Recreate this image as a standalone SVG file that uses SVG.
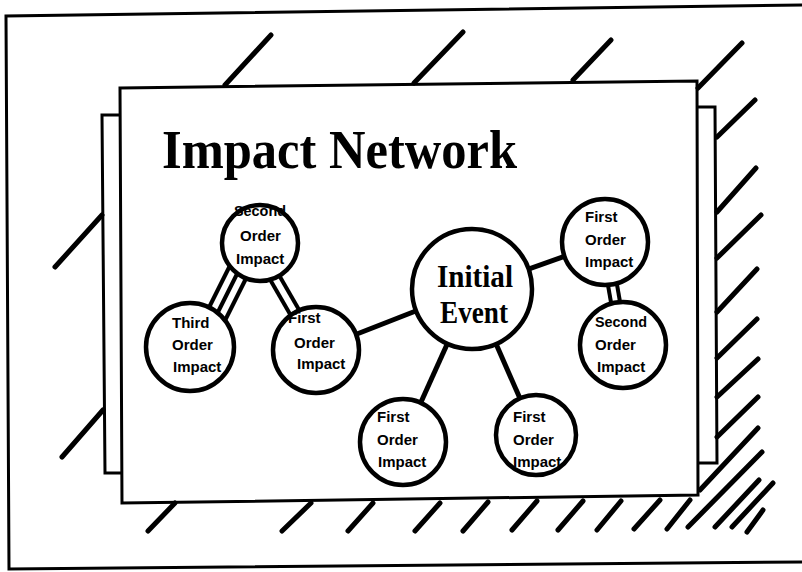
<svg xmlns="http://www.w3.org/2000/svg" width="802" height="572" viewBox="0 0 802 572">
<style>
.frame{fill:none;stroke:#000;stroke-width:3;stroke-linejoin:miter}
.hatch{fill:none;stroke:#000;stroke-width:5;stroke-linecap:round}
.conn{fill:none;stroke:#000;stroke-width:5}
.strip{fill:none;stroke:#000;stroke-width:4}
.node circle{fill:#fff;stroke:#000;stroke-width:4.5}
.lbl{font-family:"Liberation Sans",Arial,sans-serif;font-weight:bold;font-size:15px;fill:#000}
.big{font-family:"Liberation Serif","Times New Roman",serif;font-weight:bold;fill:#000}
</style>
<rect x="0" y="0" width="802" height="572" fill="#fff"/>
<g id="frame">
<path class="frame" d="M802,5 L6,16 L9,569 L802,562"/>
<path class="frame" d="M120,88 L697,81 L698,495 L122,503 Z"/>
<path class="frame" d="M120,115 H102 L105,473 H122"/>
<path class="frame" d="M697,107 H715 L717,463 H699"/>
</g>
<g id="hatching">
<path class="hatch" d="M225,85 L271,35 M414,83 L463,32 M573,80 L611,40 M698,88 L742,43"/>
<path class="hatch" d="M717,137 L755,100 M717,212 L756,168 M717,258 L761,215 M717,312 L757,269 M717,358 L757,319 M717,397 L758,359 M717,437 L758,397"/>
<path class="hatch" d="M700,490 L758,428 M688,527 L762,452 M715,527 L759,480 M732,527 L773,483 M747,532 L763,510"/>
<path class="hatch" d="M148,531 L175,503 M282,531 L311,503 M348,531 L373,503 M415,531 L440,503 M463,531 L488,502 M512,530 L537,501 M558,530 L583,501 M597,530 L621,501 M634,529 L660,500 M667,529 L690,500"/>
<path class="hatch" d="M55,267 L102,215 M62,457 L103,410"/>
</g>
<g id="connectors">
<line class="conn" x1="472" y1="289" x2="316" y2="350"/>
<line class="conn" x1="472" y1="289" x2="605" y2="242"/>
<line class="conn" x1="472" y1="289" x2="403" y2="442"/>
<line class="conn" x1="472" y1="289" x2="536" y2="435"/>
<g class="strip">
<line x1="244" y1="260" x2="212" y2="324"/>
<line x1="253" y1="264.5" x2="221" y2="328.5"/>
<line x1="235" y1="255.5" x2="203" y2="319.5"/>
<line x1="272.3" y1="263.5" x2="302.3" y2="315.5"/>
<line x1="263.7" y1="268.5" x2="293.7" y2="320.5"/>
<line x1="609.4" y1="241.2" x2="627.4" y2="344.2"/>
<line x1="600.6" y1="242.8" x2="618.6" y2="345.8"/>
</g>
</g>
<g id="title"><text class="big" x="162" y="168" font-size="54" textLength="355" lengthAdjust="spacingAndGlyphs">Impact Network</text></g>
<g id="node-second-left" class="node">
<circle cx="260" cy="243" r="38"/>
<text class="lbl" x="234" y="216" textLength="52" lengthAdjust="spacingAndGlyphs">Second</text>
<text class="lbl" x="240" y="241">Order</text>
<text class="lbl" x="236" y="264">Impact</text>
</g>
<g id="node-third" class="node">
<circle cx="190" cy="347" r="44"/>
<text class="lbl" x="172" y="328">Third</text>
<text class="lbl" x="172" y="350">Order</text>
<text class="lbl" x="173" y="372">Impact</text>
</g>
<g id="node-first-left" class="node">
<circle cx="316" cy="350" r="43"/>
<text class="lbl" x="288" y="323">First</text>
<text class="lbl" x="294" y="348">Order</text>
<text class="lbl" x="297" y="369">Impact</text>
</g>
<g id="node-initial" class="node">
<circle cx="472" cy="289" r="60"/>
<text class="big" x="437" y="287" font-size="32" textLength="76" lengthAdjust="spacingAndGlyphs">Initial</text>
<text class="big" x="440" y="323" font-size="32" textLength="68" lengthAdjust="spacingAndGlyphs">Event</text>
</g>
<g id="node-first-bl" class="node">
<circle cx="403" cy="442" r="43"/>
<text class="lbl" x="377" y="422">First</text>
<text class="lbl" x="377" y="445">Order</text>
<text class="lbl" x="378" y="467">Impact</text>
</g>
<g id="node-first-br" class="node">
<circle cx="536" cy="435" r="40"/>
<text class="lbl" x="513" y="422">First</text>
<text class="lbl" x="513" y="445">Order</text>
<text class="lbl" x="513" y="467">Impact</text>
</g>
<g id="node-first-tr" class="node">
<circle cx="605" cy="242" r="43"/>
<text class="lbl" x="585" y="222">First</text>
<text class="lbl" x="585" y="245">Order</text>
<text class="lbl" x="585" y="267">Impact</text>
</g>
<g id="node-second-right" class="node">
<circle cx="623" cy="345" r="43"/>
<text class="lbl" x="595" y="327" textLength="52" lengthAdjust="spacingAndGlyphs">Second</text>
<text class="lbl" x="595" y="350">Order</text>
<text class="lbl" x="597" y="372">Impact</text>
</g>
</svg>
